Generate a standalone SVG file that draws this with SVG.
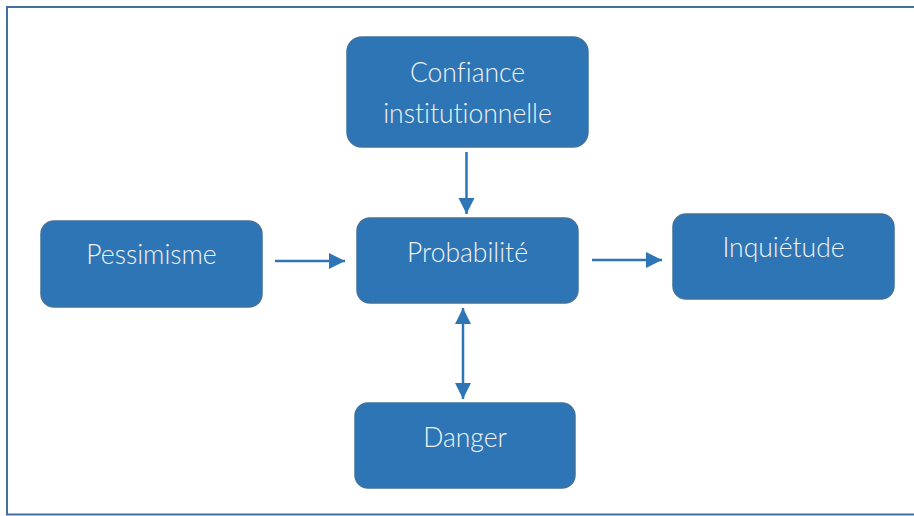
<svg xmlns="http://www.w3.org/2000/svg" width="914" height="516" viewBox="0 0 914 516">
  <style>
    .box { fill: #2E75B6; stroke: #41719C; stroke-width: 1.5; }
    .lbl { font-family: Lato, "Open Sans", "Liberation Sans", sans-serif; font-size: 26.5px; font-weight: 300; font-variant-ligatures: none; fill: #F2F2F2; text-anchor: middle; }
    .conn { stroke: #2E75B6; stroke-width: 2.5; fill: none; }
    .frame { stroke: #41719C; stroke-width: 2; fill: none; }
  </style>
  <defs>
    <marker id="ah" markerUnits="userSpaceOnUse" markerWidth="18" markerHeight="18" refX="16" refY="8" orient="auto-start-reverse">
      <path d="M0,0 L16,8 L0,16 Z" fill="#2E75B6"/>
    </marker>
  </defs>
  <rect width="914" height="516" fill="#FFFFFF"/>
  <path class="frame" d="M914,7 L7,7 L7,514.5 L914,514.5"/>

  <g id="confiance">
    <rect class="box" x="347" y="37" width="241" height="110" rx="15"/>
    <text class="lbl" x="467.5" y="82">Confiance</text>
    <text class="lbl" x="467.5" y="123">institutionnelle</text>
  </g>
  <g id="pessimisme">
    <rect class="box" x="41" y="221" width="221" height="86" rx="13"/>
    <text class="lbl" x="151.5" y="264">Pessimisme</text>
  </g>
  <g id="probabilite">
    <rect class="box" x="357" y="218" width="221" height="85" rx="13"/>
    <text class="lbl" x="467.5" y="262">Probabilité</text>
  </g>
  <g id="inquietude">
    <rect class="box" x="673" y="214" width="221" height="85" rx="13"/>
    <text class="lbl" x="783.5" y="257">Inquiétude</text>
  </g>
  <g id="danger">
    <rect class="box" x="355" y="403" width="220" height="85" rx="13"/>
    <text class="lbl" x="465" y="447">Danger</text>
  </g>

  <g id="connectors">
    <line class="conn" x1="466.5" y1="152" x2="466.5" y2="214" marker-end="url(#ah)"/>
    <line class="conn" x1="275" y1="261" x2="345" y2="261" marker-end="url(#ah)"/>
    <line class="conn" x1="592" y1="260" x2="662" y2="260" marker-end="url(#ah)"/>
    <line class="conn" x1="463" y1="308" x2="463" y2="399" marker-start="url(#ah)" marker-end="url(#ah)"/>
  </g>
</svg>
